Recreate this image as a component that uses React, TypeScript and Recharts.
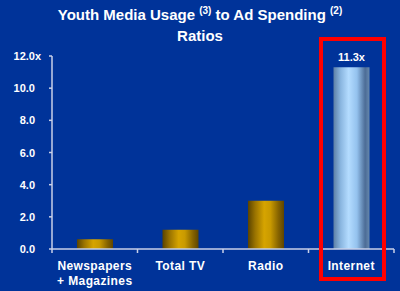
import React from 'react';
import { BarChart, Bar, XAxis, YAxis, Cell, LabelList } from 'recharts';

const categories = ['Newspapers\n+ Magazines', 'Total TV', 'Radio', 'Internet'];
const ratios = [0.6, 1.2, 3.0, 11.3];
const valueLabels = ['', '', '', '11.3x'];
const yTicks = [0, 2, 4, 6, 8, 10, 12];
const highlighted = 'Internet';

const data = categories.map((name, i) => ({ name, ratio: ratios[i], label: valueLabels[i] }));

const FONT = '"Liberation Sans", Arial, sans-serif';
const BG = '#003399';
const AXIS = '#c8d0e8';

const ValueTick = (props: any) => {
  const { x, y, payload } = props;
  const v = Number(payload.value);
  return (
    <g>
      <text x={x} y={y} dy={4} textAnchor="end" fill="#fff" fontWeight="bold" fontSize={11} fontFamily={FONT}>
        {v.toFixed(1)}
      </text>
      {v === 12 && (
        <text x={x} y={y} dy={4} textAnchor="start" fill="#fff" fontWeight="bold" fontSize={11} fontFamily={FONT}>
          x
        </text>
      )}
    </g>
  );
};

const CategoryTick = (props: any) => {
  const { x, y, payload, index } = props;
  const half = payload.offset || 42.75;
  const lines = String(payload.value).split('\n');
  return (
    <g>
      <line x1={x - half} x2={x - half} y1={y} y2={y + 4} stroke={AXIS} strokeWidth={1.5} />
      {index === categories.length - 1 && (
        <line x1={x + half} x2={x + half} y1={y} y2={y + 4} stroke={AXIS} strokeWidth={1.5} />
      )}
      {lines.map((l, i) => (
        <text
          key={i}
          x={x}
          y={y + 21 + i * 15}
          textAnchor="middle"
          fill="#fff"
          fontWeight="bold"
          fontSize={12}
          fontFamily={FONT}
          letterSpacing={0.4}
        >
          {l}
        </text>
      ))}
    </g>
  );
};

const supStyle: React.CSSProperties = { fontSize: 10, verticalAlign: 'baseline', position: 'relative', top: -6 };

export default function App() {
  return (
    <div style={{ position: 'absolute', left: 0, top: 0, width: 400, height: 291, background: BG, overflow: 'hidden' }}>
      <div
        style={{
          position: 'absolute',
          left: 0,
          top: 5,
          width: 400,
          textAlign: 'center',
          color: '#fff',
          fontFamily: FONT,
          fontWeight: 'bold',
          fontSize: 15,
          lineHeight: '19px',
        }}
      >
        Youth Media Usage <span style={supStyle}>(3)</span> to Ad Spending <span style={supStyle}>(2)</span>
        <br />
        Ratios
      </div>
      <BarChart width={400} height={291} data={data} margin={{ top: 56, right: 6, bottom: 12, left: 0 }}>
        <defs>
          <linearGradient id="gold" x1="0" y1="0" x2="1" y2="0">
            <stop offset="0%" stopColor="#5a4300" />
            <stop offset="20%" stopColor="#9a7300" />
            <stop offset="45%" stopColor="#d6a400" />
            <stop offset="62%" stopColor="#c99a00" />
            <stop offset="85%" stopColor="#846200" />
            <stop offset="100%" stopColor="#5e4500" />
          </linearGradient>
          <linearGradient id="blue" x1="0" y1="0" x2="1" y2="0">
            <stop offset="0%" stopColor="#5d7fa6" />
            <stop offset="20%" stopColor="#8ab6e0" />
            <stop offset="42%" stopColor="#b4dcff" />
            <stop offset="65%" stopColor="#94c2ee" />
            <stop offset="88%" stopColor="#4c6c96" />
            <stop offset="100%" stopColor="#6688ae" />
          </linearGradient>
        </defs>
        <XAxis
          dataKey="name"
          interval={0}
          height={30}
          axisLine={{ stroke: AXIS, strokeWidth: 1.5 }}
          tickLine={false}
          tickSize={0}
          tickMargin={0}
          tick={<CategoryTick />}
        />
        <YAxis
          domain={[0, 12]}
          ticks={yTicks}
          width={52}
          axisLine={{ stroke: AXIS, strokeWidth: 1.5 }}
          tickLine={{ stroke: AXIS, strokeWidth: 1.5 }}
          tickSize={3}
          tickMargin={14}
          tick={<ValueTick />}
        />
        <Bar dataKey="ratio" barSize={36} isAnimationActive={false}>
          {data.map((d) => (
            <Cell key={d.name} fill={d.name === highlighted ? 'url(#blue)' : 'url(#gold)'} />
          ))}
          <LabelList dataKey="label" position="top" offset={6} fill="#fff" fontWeight="bold" fontSize={11} fontFamily={FONT} />
        </Bar>
      </BarChart>
      <div
        style={{
          position: 'absolute',
          left: 319,
          top: 37,
          width: 67,
          height: 244,
          border: '4.5px solid #ff0000',
          boxSizing: 'border-box',
          pointerEvents: 'none',
        }}
      />
    </div>
  );
}
